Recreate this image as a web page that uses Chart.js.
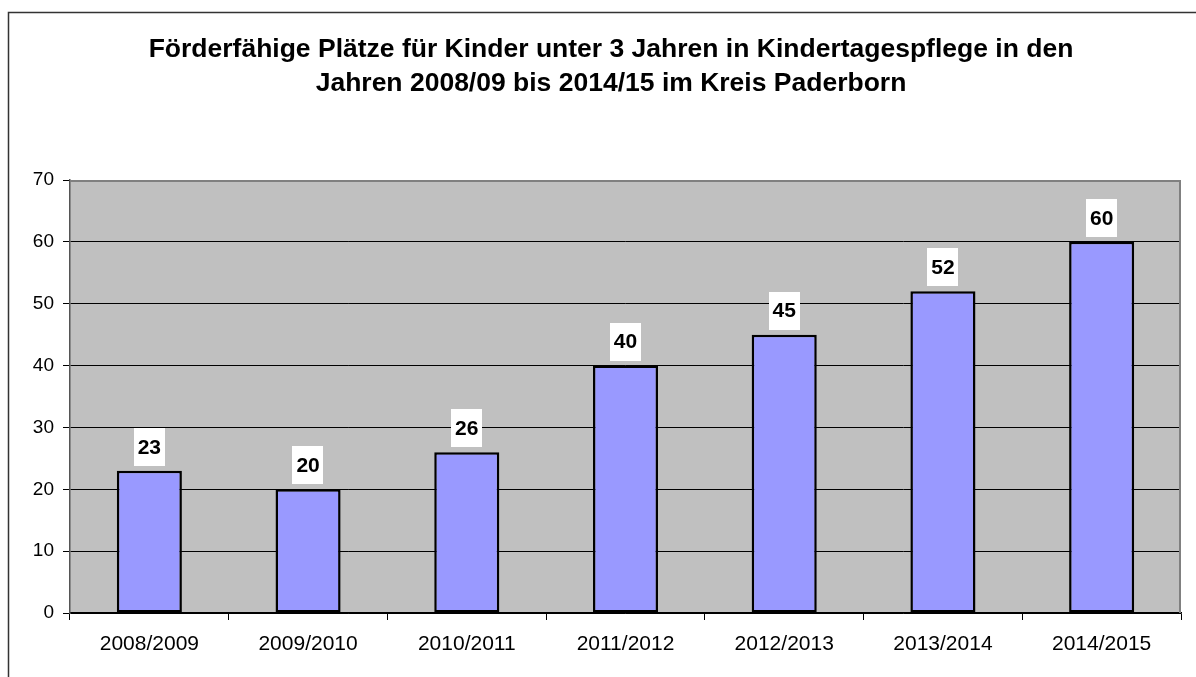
<!DOCTYPE html>
<html><head><meta charset="utf-8">
<script src="https://cdn.jsdelivr.net/npm/chart.js@4/dist/chart.umd.min.js"></script>
<style>html,body{margin:0;padding:0;background:#fff}#wrap{width:1196px;height:677px;position:relative}</style>
</head><body><div id="wrap"><canvas id="c" width="1196" height="677"></canvas></div>
<script>
const categories = ['2008/2009','2009/2010','2010/2011','2011/2012','2012/2013','2013/2014','2014/2015'];
const values = [23, 20, 26, 40, 45, 52, 60];
const yMin = 0, yMax = 70, yStep = 10;
const titleLines = ['Förderfähige Plätze für Kinder unter 3 Jahren in Kindertagespflege in den', 'Jahren 2008/09 bis 2014/15 im Kreis Paderborn'];
const FONT = '"Liberation Sans", Arial, sans-serif';

const framePlugin = {
  id: 'frame',
  beforeDraw(chart) {
    const ctx = chart.ctx, a = chart.chartArea;
    ctx.save();
    ctx.fillStyle = '#fff';
    ctx.fillRect(0, 0, chart.width, chart.height);
    ctx.strokeStyle = '#333';
    ctx.lineWidth = 1.5;
    ctx.beginPath();
    ctx.moveTo(8.5, chart.height + 2);
    ctx.lineTo(8.5, 12.5);
    ctx.lineTo(chart.width + 2, 12.5);
    ctx.stroke();
    ctx.fillStyle = '#C0C0C0';
    ctx.fillRect(a.left, a.top, a.right - a.left, a.bottom - a.top);
    ctx.fillStyle = '#000';
    ctx.font = 'bold 26.5px ' + FONT;
    ctx.textAlign = 'center';
    ctx.textBaseline = 'alphabetic';
    ctx.fillText(titleLines[0], 611, 57);
    ctx.fillText(titleLines[1], 611, 91);
    ctx.restore();
  },
  afterDraw(chart) {
    const ctx = chart.ctx, a = chart.chartArea;
    ctx.save();
    ctx.strokeStyle = '#808080';
    ctx.lineWidth = 2;
    ctx.beginPath();
    ctx.moveTo(a.left, a.top + 1);
    ctx.lineTo(a.right - 1, a.top + 1);
    ctx.lineTo(a.right - 1, a.bottom);
    ctx.stroke();
    ctx.restore();
  }
};

const labelPlugin = {
  id: 'barLabels',
  afterDatasetsDraw(chart) {
    const ctx = chart.ctx;
    const meta = chart.getDatasetMeta(0);
    ctx.save();
    ctx.font = 'bold 21px ' + FONT;
    ctx.textAlign = 'center';
    ctx.textBaseline = 'middle';
    meta.data.forEach((bar, i) => {
      const txt = String(values[i]);
      const w = ctx.measureText(txt).width + 8;
      const h = 38;
      const bottom = bar.y - 5;
      ctx.fillStyle = '#fff';
      ctx.fillRect(Math.round(bar.x - w / 2), Math.round(bottom - h), Math.round(w), h);
      ctx.fillStyle = '#000';
      ctx.fillText(txt, bar.x, bottom - h / 2 + 1);
    });
    ctx.restore();
  }
};

new Chart(document.getElementById('c'), {
  type: 'bar',
  data: {
    labels: categories,
    datasets: [{
      data: values,
      backgroundColor: '#9999FF',
      borderColor: '#000',
      borderWidth: 2.5,
      borderSkipped: false,
      categoryPercentage: 1,
      barPercentage: 0.41
    }]
  },
  options: {
    responsive: false,
    devicePixelRatio: 1,
    animation: false,
    layout: { padding: { top: 180, left: 0, right: 15, bottom: 0 } },
    plugins: { legend: { display: false }, title: { display: false }, tooltip: { enabled: false } },
    scales: {
      x: {
        offset: true,
        grid: { offset: true, drawOnChartArea: false, color: '#000', tickLength: 7, tickColor: '#000' },
        border: { color: '#000', width: 1.5 },
        ticks: { color: '#000', font: { family: FONT, size: 21 }, padding: 12, maxRotation: 0 },
        afterFit(s) { s.height = 64; }
      },
      y: {
        min: yMin, max: yMax,
        grid: { color: (c) => c.tick && c.tick.value === yMax ? 'rgba(0,0,0,0)' : '#000', tickColor: '#000', tickLength: 7, lineWidth: 1 },
        border: { color: '#555', width: 1.5 },
        ticks: { stepSize: yStep, color: '#000', font: { family: FONT, size: 19 }, padding: 9 },
        afterFit(s) { s.width = 70; }
      }
    }
  },
  plugins: [framePlugin, labelPlugin]
});
</script>
</body></html>
